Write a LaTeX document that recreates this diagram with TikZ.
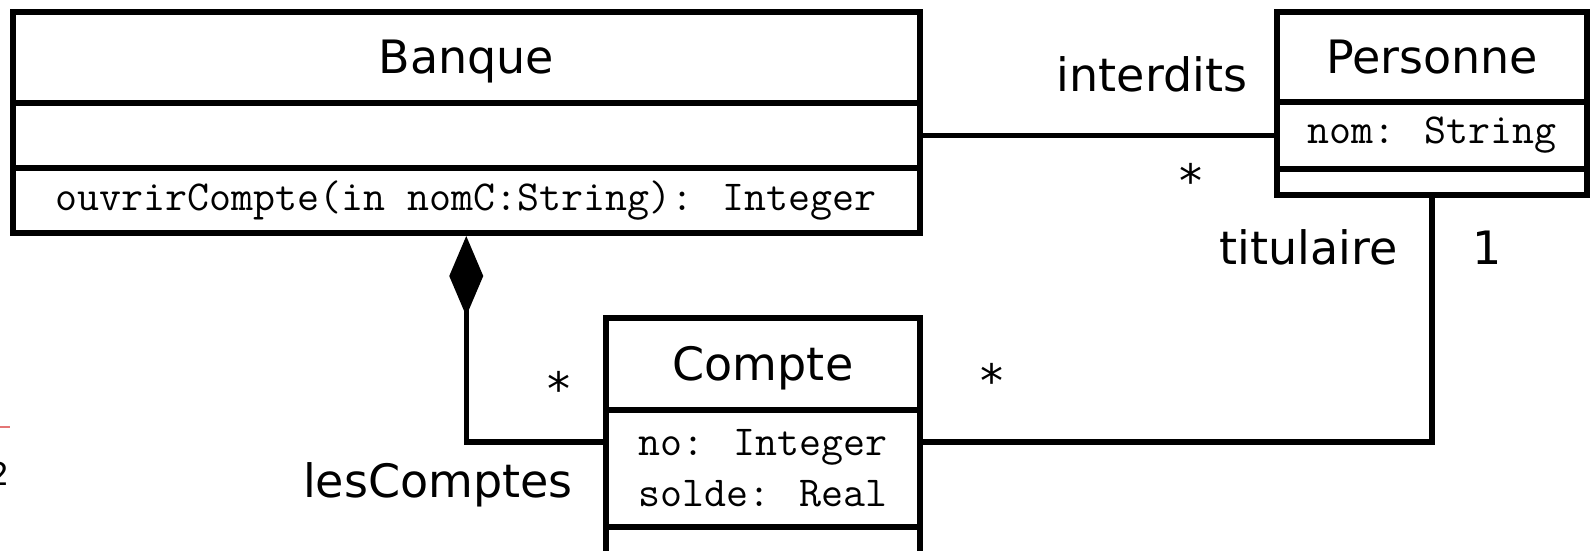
\documentclass[tikz,border=0pt]{standalone}
\usepackage{fontspec}
\setmainfont{DejaVu Sans}
\usetikzlibrary{arrows.meta}
\definecolor{marginred}{RGB}{228,118,118}

\begin{document}
\begin{tikzpicture}[x=1pt, y=-1pt,
    part/.style={draw, line width=6pt, inner sep=0pt, fill=white},
    classname/.style={part, font=\fontsize{46}{55}\selectfont, text height=33pt, text depth=0pt},
    members/.style={part, align=left, font=\ttfamily\fontsize{42.7}{51}\selectfont},
    lbl/.style={inner sep=0pt, anchor=base, font=\fontsize{46}{55}\selectfont},
    link/.style={line width=5.5pt}]
\useasboundingbox (0,0) rectangle (1592,551);

    % Banque
    \node[classname, minimum width=907.5pt, minimum height=91pt] (banque) at (466.25,57.5) {Banque};
    \node[part, minimum width=907.5pt, minimum height=65pt] (banqueattr) at (466.25,135.5) {};
    \node[members, minimum width=907.5pt, minimum height=65pt] (banqueops) at (466.25,200.5) {ouvrirCompte(in nomC:String): Integer};

    % Personne
    \node[classname, minimum width=310pt, minimum height=90pt] (personne) at (1432,57) {Personne};
    \node[members, minimum width=310pt, minimum height=67pt] (personneattr) at (1432,135.5) {nom: String};
    \node[part, minimum width=310pt, minimum height=26pt] (personneops) at (1432,182) {};

    % Compte
    \node[classname, minimum width=314pt, minimum height=92pt] (compte) at (763,364) {Compte};
    \node[members, minimum width=314pt, minimum height=117pt] (compteattr) at (763,468.5) {no: Integer\\solde: Real};
    \node[part, minimum width=314pt, minimum height=63pt] (compteops) at (763,558.5) {};

    \draw[link] (banqueattr.east) -- (personneattr.west);
    \draw[link] (personneops.south) |- ([yshift=26.5pt]compteattr.east);
    \draw[link, {Diamond[length=80pt, width=34pt]}-] (banqueops.south) |- ([yshift=26.5pt]compteattr.west);

    \node[lbl] (interdits) at (1152,92) {interdits};
    \node[lbl] (multinterdits) at (1191,197) {*};
    \node[lbl, anchor=base east] (titulaire) at (1398,264) {titulaire};
    \node[lbl] (multtitulaire) at (1487,264) {1};
    \node[lbl] (multcompte) at (992,397) {*};
    \node[lbl] (multlescomptes) at (559,405) {*};
    \node[lbl, anchor=base east] (lescomptes) at (573,497) {lesComptes};

    % page margin leftovers
    \draw[marginred, line width=2pt] (0,427) -- (10,427);
    \node[inner sep=0pt, anchor=base east, font=\fontsize{31.5}{38}\selectfont] (pagenum) at (10,485) {2};

\end{tikzpicture}
\end{document}
